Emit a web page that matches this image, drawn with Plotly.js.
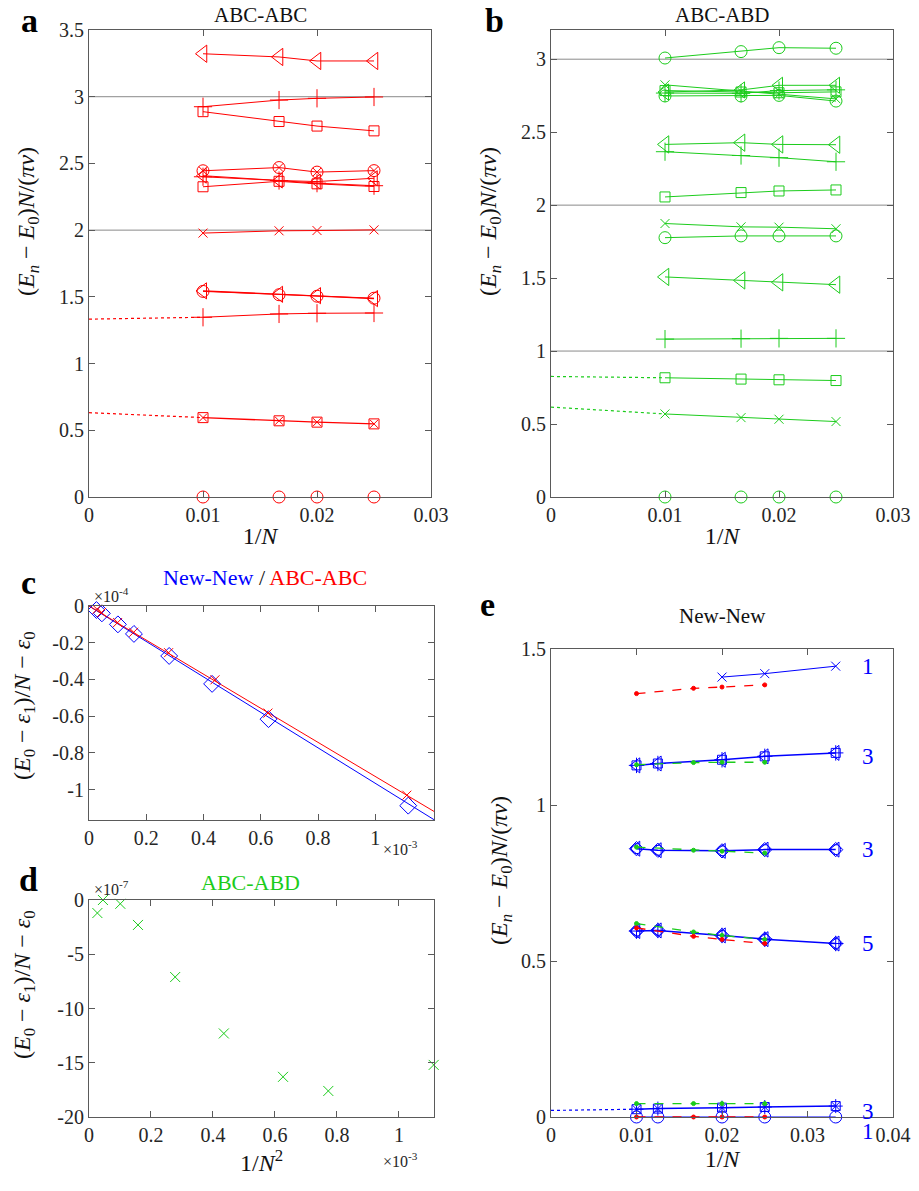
<!DOCTYPE html>
<html>
<head>
<meta charset="utf-8">
<script src="https://cdn.plot.ly/plotly-3.0.1.min.js"></script>
<style>html,body{margin:0;padding:0;background:#fff;}#chart{width:919px;height:1191px;}</style>
</head>
<body>
<div id="chart"></div>
<script>
// ---------------- DATA ----------------
// Panel a : ABC-ABC, x = 1/N
const xA = [0.01, 0.01667, 0.02, 0.025];
const aTriTop = [3.322, 3.298, 3.268, 3.268];
const aPlusTop = [2.925, 2.975, 2.988, 2.998];
const aSqTop = [2.888, 2.814, 2.780, 2.744];
const aCircX24 = [2.445, 2.469, 2.435, 2.446];
const aTri24 = [2.408, 2.372, 2.364, 2.389];
const aPlus24 = [2.400, 2.372, 2.352, 2.333];
const aSq24 = [2.325, 2.366, 2.347, 2.327];
const aX20 = [1.978, 1.995, 1.997, 2.002];
const aTri15 = [1.545, 1.519, 1.509, 1.487];
const aCirc15 = [1.541, 1.516, 1.505, 1.490];
const aPlus13 = [1.347, 1.372, 1.377, 1.379];
const aSqX06 = [0.595, 0.571, 0.561, 0.548];
const aZero = [0, 0, 0, 0];
const xExtA = [0, 0.01];
const aExt13 = [1.333, 1.347];
const aExt06 = [0.632, 0.595];
const aRefLevels = [2, 3];

// Panel b : ABC-ABD, x = 1/N
const xB = [0.01, 0.01667, 0.02, 0.025];
const bCirc30 = [3.008, 3.052, 3.079, 3.075];
const bX28 = [2.824, 2.779, 2.760, 2.728];
const bTri28 = [2.775, 2.789, 2.821, 2.821];
const bSq28 = [2.785, 2.775, 2.770, 2.776];
const bPlus28 = [2.768, 2.766, 2.785, 2.790];
const bCirc27 = [2.748, 2.748, 2.752, 2.713];
const bTri24 = [2.416, 2.428, 2.416, 2.414];
const bPlus23 = [2.366, 2.340, 2.325, 2.297];
const bSq21 = [2.056, 2.086, 2.097, 2.104];
const bX18 = [1.874, 1.851, 1.849, 1.838];
const bCirc18 = [1.777, 1.789, 1.789, 1.789];
const bTri15 = [1.508, 1.484, 1.471, 1.455];
const bPlus11 = [1.082, 1.085, 1.087, 1.087];
const bSq08 = [0.817, 0.808, 0.803, 0.798];
const bX05 = [0.569, 0.544, 0.533, 0.517];
const bZero = [0, 0, 0, 0];
const xExtB = [0, 0.01];
const bExt08 = [0.826, 0.817];
const bExt05 = [0.616, 0.569];
const bRefLevels = [1, 2, 3];

// Panel c : x = 1/N^2 (x1e-3), y = (E0-e1)/N - e0 (x1e-4)
const cXNew = [0.026, 0.045, 0.101, 0.157, 0.280, 0.430, 0.627, 1.115];
const cYNew = [-0.022, -0.040, -0.100, -0.152, -0.272, -0.424, -0.616, -1.087];
const cXAbc = [0.028, 0.044, 0.100, 0.156, 0.278, 0.440, 0.625, 1.110];
const cYAbc = [-0.018, -0.035, -0.090, -0.143, -0.254, -0.402, -0.583, -1.030];
const cFitX = [0, 1.21];
const cFitNew = [0, -1.168];
const cFitAbc = [0, -1.123];
const cTickVals = [0, -0.2, -0.4, -0.6, -0.8, -1];
const cTickText = ['0', '-0.2', '-0.4', '-0.6', '-0.8', '-1'];
const cXTickVals = [0, 0.2, 0.4, 0.6, 0.8, 1];
const cXTickText = ['0', '0.2', '0.4', '0.6', '0.8', '1'];

// Panel d : ABC-ABD, x = 1/N^2 (x1e-3), y (x1e-7)
const dX = [0.027, 0.045, 0.101, 0.158, 0.278, 0.435, 0.626, 0.772, 1.112];
const dY = [-1.2, 0, -0.35, -2.3, -7.1, -12.3, -16.3, -17.6, -15.2];
const dTickVals = [0, -5, -10, -15, -20];
const dTickText = ['0', '-5', '-10', '-15', '-20'];

// Panel e : New-New, x = 1/N
const xE = [0.01, 0.0125, 0.02, 0.025, 0.0333];
const xE1 = [0.02, 0.025, 0.0333];
const xEd = [0.01, 0.01667, 0.02, 0.025];
const eBlue1 = [1.410, 1.421, 1.445];
const eRedTop = [1.357, 1.374, 1.378, 1.385];
const eBlue3a = [1.127, 1.133, 1.145, 1.156, 1.167];
const eGreen3a = [1.129, 1.136, 1.137, 1.137];
const eBlue3b = [0.860, 0.855, 0.853, 0.857, 0.857];
const eGreen3b = [0.865, 0.855, 0.852, 0.846];
const eBlue5 = [0.596, 0.598, 0.582, 0.570, 0.556];
const eGreen5 = [0.620, 0.593, 0.582, 0.569];
const eRed5 = [0.606, 0.579, 0.569, 0.556];
const eBlue3c = [0.025, 0.027, 0.030, 0.032, 0.035];
const eGreen3c = [0.043, 0.043, 0.043, 0.043];
const eBlue1b = [0, 0, 0, 0, 0];
const eRed1b = [0, 0, 0, 0];
const xExtE = [0, 0.01];
const eExt = [0.021, 0.025];
const eDegeneracy = ['1', '3', '3', '5', '3', '1'];

// ---------------- STYLE ----------------
const SERIF = 'Liberation Serif';
const RED = '#ff0000', GREEN = '#1ccc1c', BLUE = '#0000ff';
const AX = '#5a5a5a';
const traces = [];

function line(x, y, color, xa, ya, opts) {
  opts = opts || {};
  traces.push({
    x: x, y: y, xaxis: xa, yaxis: ya, type: 'scatter',
    mode: opts.mode || 'lines+markers',
    line: {color: color, width: opts.lw || 1, dash: opts.dash || 'solid'},
    marker: {symbol: opts.symbol || 'circle', size: opts.size || 10, color: color,
             line: {color: color, width: opts.mlw || 1}},
    cliponaxis: opts.clip === undefined ? false : opts.clip,
    showlegend: false, hoverinfo: 'skip'
  });
}
function marks(x, y, color, xa, ya, symbol, size) {
  line(x, y, color, xa, ya, {mode: 'markers', symbol: symbol, size: size});
}

// Panel a
line(xExtA, aExt13, RED, 'x', 'y', {mode: 'lines', dash: 'dot', lw: 1.2});
line(xExtA, aExt06, RED, 'x', 'y', {mode: 'lines', dash: 'dot', lw: 1.2});
line(xA, aTriTop, RED, 'x', 'y', {symbol: 'triangle-left-open', size: 15});
line(xA, aPlusTop, RED, 'x', 'y', {symbol: 'cross-thin-open', size: 13});
line(xA, aSqTop, RED, 'x', 'y', {symbol: 'square-open', size: 10});
line(xA, aCircX24, RED, 'x', 'y', {symbol: 'circle-x-open', size: 12});
line(xA, aTri24, RED, 'x', 'y', {symbol: 'triangle-left-open', size: 13});
line(xA, aPlus24, RED, 'x', 'y', {symbol: 'cross-thin-open', size: 13});
line(xA, aSq24, RED, 'x', 'y', {symbol: 'square-open', size: 10});
line(xA, aX20, RED, 'x', 'y', {symbol: 'x-thin-open', size: 9});
line(xA, aTri15, RED, 'x', 'y', {symbol: 'triangle-left-open', size: 14, lw: 1.4});
line(xA, aCirc15, RED, 'x', 'y', {symbol: 'circle-open', size: 12});
line(xA, aPlus13, RED, 'x', 'y', {symbol: 'cross-thin-open', size: 13});
line(xA, aSqX06, RED, 'x', 'y', {symbol: 'square-open', size: 10, lw: 1.4});
marks(xA, aSqX06, RED, 'x', 'y', 'x-thin-open', 8);
marks(xA, aZero, RED, 'x', 'y', 'circle-open', 12);

// Panel b
line(xExtB, bExt08, GREEN, 'x2', 'y2', {mode: 'lines', dash: 'dot', lw: 1.2});
line(xExtB, bExt05, GREEN, 'x2', 'y2', {mode: 'lines', dash: 'dot', lw: 1.2});
line(xB, bCirc30, GREEN, 'x2', 'y2', {symbol: 'circle-open', size: 12});
line(xB, bX28, GREEN, 'x2', 'y2', {symbol: 'x-thin-open', size: 9});
line(xB, bTri28, GREEN, 'x2', 'y2', {symbol: 'triangle-left-open', size: 14});
line(xB, bSq28, GREEN, 'x2', 'y2', {symbol: 'square-open', size: 10});
line(xB, bPlus28, GREEN, 'x2', 'y2', {symbol: 'cross-thin-open', size: 13});
line(xB, bCirc27, GREEN, 'x2', 'y2', {symbol: 'circle-open', size: 12});
line(xB, bTri24, GREEN, 'x2', 'y2', {symbol: 'triangle-left-open', size: 15});
line(xB, bPlus23, GREEN, 'x2', 'y2', {symbol: 'cross-thin-open', size: 13});
line(xB, bSq21, GREEN, 'x2', 'y2', {symbol: 'square-open', size: 10});
line(xB, bX18, GREEN, 'x2', 'y2', {symbol: 'x-thin-open', size: 9});
line(xB, bCirc18, GREEN, 'x2', 'y2', {symbol: 'circle-open', size: 12});
line(xB, bTri15, GREEN, 'x2', 'y2', {symbol: 'triangle-left-open', size: 15});
line(xB, bPlus11, GREEN, 'x2', 'y2', {symbol: 'cross-thin-open', size: 13});
line(xB, bSq08, GREEN, 'x2', 'y2', {symbol: 'square-open', size: 10});
line(xB, bX05, GREEN, 'x2', 'y2', {symbol: 'x-thin-open', size: 9});
marks(xB, bZero, GREEN, 'x2', 'y2', 'circle-open', 12);

// Panel c
line(cFitX, cFitNew, BLUE, 'x3', 'y3', {mode: 'lines', clip: true});
line(cFitX, cFitAbc, RED, 'x3', 'y3', {mode: 'lines', clip: true});
marks(cXNew, cYNew, BLUE, 'x3', 'y3', 'diamond-open', 13);
marks(cXAbc, cYAbc, RED, 'x3', 'y3', 'x-thin-open', 9);

// Panel d
marks(dX, dY, GREEN, 'x4', 'y4', 'x-thin-open', 10);

// Panel e
line(xExtE, eExt, BLUE, 'x5', 'y5', {mode: 'lines', dash: 'dot', lw: 1.2});
line(xE1, eBlue1, BLUE, 'x5', 'y5', {symbol: 'x-thin-open', size: 9});
line(xE, eBlue3a, BLUE, 'x5', 'y5', {symbol: 'triangle-left-open', size: 13, lw: 1.5});
marks(xE, eBlue3a, BLUE, 'x5', 'y5', 'square-open', 9);
marks(xE, eBlue3a, BLUE, 'x5', 'y5', 'cross-thin-open', 11);
line(xE, eBlue3b, BLUE, 'x5', 'y5', {symbol: 'triangle-left-open', size: 13, lw: 1.5});
marks(xE, eBlue3b, BLUE, 'x5', 'y5', 'circle-open', 10);
marks(xE, eBlue3b, BLUE, 'x5', 'y5', 'diamond-open', 11);
line(xE, eBlue5, BLUE, 'x5', 'y5', {symbol: 'triangle-left-open', size: 13, lw: 1.5});
marks(xE, eBlue5, BLUE, 'x5', 'y5', 'circle-open', 10);
marks(xE, eBlue5, BLUE, 'x5', 'y5', 'cross-thin-open', 11);
marks(xE, eBlue5, BLUE, 'x5', 'y5', 'diamond-open', 11);
line(xE, eBlue3c, BLUE, 'x5', 'y5', {symbol: 'square-open', size: 9, lw: 1.5});
marks(xE, eBlue3c, BLUE, 'x5', 'y5', 'x-thin-open', 8);
marks(xE, eBlue3c, BLUE, 'x5', 'y5', 'cross-thin-open', 10);
line(xE, eBlue1b, BLUE, 'x5', 'y5', {symbol: 'circle-open', size: 12});
line(xEd, eRedTop, RED, 'x5', 'y5', {symbol: 'circle', size: 4, dash: 'dash', lw: 1.3});
line(xEd, eGreen3a, GREEN, 'x5', 'y5', {symbol: 'circle', size: 4, dash: 'dash', lw: 1.3});
line(xEd, eGreen3b, GREEN, 'x5', 'y5', {symbol: 'circle', size: 4, dash: 'dash', lw: 1.3});
line(xEd, eGreen5, GREEN, 'x5', 'y5', {symbol: 'circle', size: 4, dash: 'dash', lw: 1.3});
line(xEd, eRed5, RED, 'x5', 'y5', {symbol: 'circle', size: 4, dash: 'dash', lw: 1.3});
line(xEd, eGreen3c, GREEN, 'x5', 'y5', {symbol: 'circle', size: 4, dash: 'dash', lw: 1.3});
line(xEd, eRed1b, RED, 'x5', 'y5', {symbol: 'circle', size: 4, dash: 'dash', lw: 1.3});

// ---------------- LAYOUT ----------------
const W = 919, H = 1191;
const px = v => v / W;
const py = v => 1 - v / H;

function axis(extra) {
  return Object.assign({
    showline: true, mirror: 'ticks', linecolor: AX, linewidth: 1,
    ticks: 'inside', ticklen: 6, tickcolor: AX, tickwidth: 1,
    showgrid: false, zeroline: false, fixedrange: true,
    tickfont: {family: SERIF, size: 20, color: '#262626'}
  }, extra);
}
const yTitle = '(<i>E</i><sub><i>n</i></sub> − <i>E</i><sub>0</sub>)<i>N</i>/(<i>πv</i>)';
const cTitle = '(<i>E</i><sub>0</sub> − <i>ε</i><sub>1</sub>)/<i>N</i> − <i>ε</i><sub>0</sub>';
const tFont = {family: SERIF, size: 24, color: '#111'};

const layout = {
  width: W, height: H, margin: {l: 0, r: 0, t: 0, b: 0},
  font: {family: SERIF},
  paper_bgcolor: '#fff', plot_bgcolor: '#fff', showlegend: false,
  xaxis: axis({domain: [px(89), px(431)], range: [0, 0.03], anchor: 'y',
    tickvals: [0, 0.01, 0.02, 0.03], ticktext: ['0', '0.01', '0.02', '0.03'],
    title: {text: '1/<i>N</i>', font: tFont, standoff: 2}}),
  yaxis: axis({domain: [py(497), py(30)], range: [0, 3.5], anchor: 'x',
    tickvals: [0, 0.5, 1, 1.5, 2, 2.5, 3, 3.5], ticktext: ['0', '0.5', '1', '1.5', '2', '2.5', '3', '3.5']}),
  xaxis2: axis({domain: [px(551), px(893)], range: [0, 0.03], anchor: 'y2',
    tickvals: [0, 0.01, 0.02, 0.03], ticktext: ['0', '0.01', '0.02', '0.03'],
    title: {text: '1/<i>N</i>', font: tFont, standoff: 2}}),
  yaxis2: axis({domain: [py(497), py(30)], range: [0, 3.2], anchor: 'x2',
    tickvals: [0, 0.5, 1, 1.5, 2, 2.5, 3], ticktext: ['0', '0.5', '1', '1.5', '2', '2.5', '3']}),
  xaxis3: axis({domain: [px(89), px(434)], range: [0, 1.205], anchor: 'y3',
    tickvals: cXTickVals, ticktext: cXTickText}),
  yaxis3: axis({domain: [py(820), py(606)], range: [-1.165, 0], anchor: 'x3',
    tickvals: cTickVals, ticktext: cTickText}),
  xaxis4: axis({domain: [px(89), px(434)], range: [0, 1.113], anchor: 'y4',
    tickvals: cXTickVals, ticktext: cXTickText,
    title: {text: '1/<i>N</i><sup>2</sup>', font: tFont, standoff: 2}}),
  yaxis4: axis({domain: [py(1117), py(900)], range: [-20, 0], anchor: 'x4',
    tickvals: dTickVals, ticktext: dTickText}),
  xaxis5: axis({domain: [px(551), px(893)], range: [0, 0.04], anchor: 'y5',
    tickvals: [0, 0.01, 0.02, 0.03, 0.04], ticktext: ['0', '0.01', '0.02', '0.03', '0.04'],
    title: {text: '1/<i>N</i>', font: tFont, standoff: 2}}),
  yaxis5: axis({domain: [py(1117), py(649)], range: [0, 1.5], anchor: 'x5',
    tickvals: [0, 0.5, 1, 1.5], ticktext: ['0', '0.5', '1', '1.5']}),
  shapes: [],
  annotations: []
};

aRefLevels.forEach(v => layout.shapes.push({type: 'line', xref: 'x domain', yref: 'y', x0: 0, x1: 1, y0: v, y1: v,
  line: {color: '#8a8a8a', width: 1}, layer: 'below'}));
bRefLevels.forEach(v => layout.shapes.push({type: 'line', xref: 'x2 domain', yref: 'y2', x0: 0, x1: 1, y0: v, y1: v,
  line: {color: '#8a8a8a', width: 1}, layer: 'below'}));

function ann(text, x, y, size, color, opts) {
  layout.annotations.push(Object.assign({text: text, x: px(x), y: py(y), xref: 'paper', yref: 'paper',
    showarrow: false, xanchor: 'center', yanchor: 'middle',
    font: {family: SERIF, size: size, color: color || '#111'}}, opts || {}));
}
// panel letters
ann('<b>a</b>', 29, 0, 34, '#000', {yanchor: 'top'});
ann('<b>b</b>', 494, 0, 34, '#000', {yanchor: 'top'});
ann('<b>c</b>', 28, 582, 34, '#000');
ann('<b>d</b>', 28, 879, 34, '#000');
ann('<b>e</b>', 487, 604, 34, '#000');
// titles
ann('ABC-ABC', 260, 15, 21);
ann('ABC-ABD', 722, 15, 21);
ann('<span style="color:' + BLUE + '">New-New</span> / <span style="color:' + RED + '">ABC-ABC</span>', 265, 578, 22);
ann('ABC-ABD', 250, 882, 22, GREEN);
ann('New-New', 722, 616, 21);
// y-axis titles
ann(yTitle, 28, 222, 24, '#111', {textangle: -90});
ann(yTitle, 490, 222, 24, '#111', {textangle: -90});
ann(cTitle, 24, 706, 24, '#111', {textangle: -90});
ann(cTitle, 24, 985, 24, '#111', {textangle: -90});
ann(yTitle, 501, 870, 24, '#111', {textangle: -90});
// exponent labels
ann('×10<sup>-4</sup>', 92, 595, 16, '#262626', {xanchor: 'left'});
ann('×10<sup>-3</sup>', 381, 848, 16, '#262626', {xanchor: 'left'});
ann('×10<sup>-7</sup>', 92, 888, 16, '#262626', {xanchor: 'left'});
ann('×10<sup>-3</sup>', 381, 1160, 16, '#262626', {xanchor: 'left'});
// degeneracy labels, panel e
const eLastVals = [eBlue1, eBlue3a, eBlue3b, eBlue5, eBlue3c, eBlue1b].map(a => a[a.length - 1]);
const eShift = [0, -4, 0, 0, -5, -14];
eDegeneracy.forEach((t, i) => layout.annotations.push({
  text: t, x: 0.0371, y: eLastVals[i], xref: 'x5', yref: 'y5', yshift: eShift[i],
  showarrow: false, xanchor: 'center', yanchor: 'middle',
  font: {family: SERIF, size: 23, color: BLUE}
}));

Plotly.newPlot('chart', traces, layout, {staticPlot: true, displayModeBar: false});
</script>
</body>
</html>
